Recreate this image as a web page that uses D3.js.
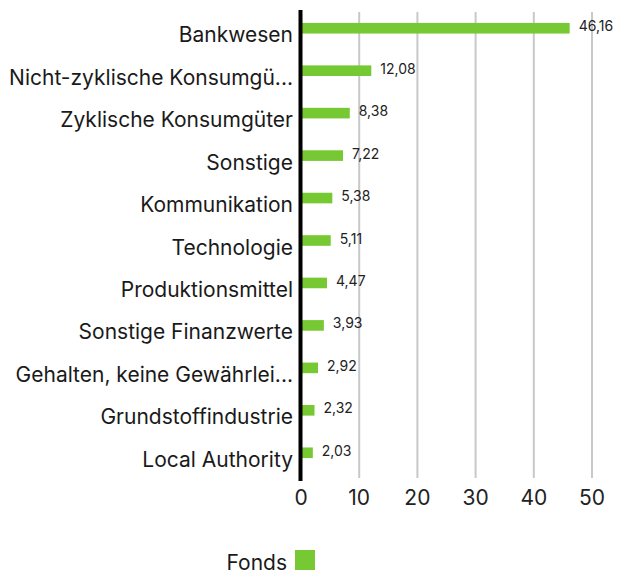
<!DOCTYPE html>
<head>
  <meta charset="utf-8" />
  <script src="https://d3js.org/d3.v7.min.js"></script>
  <style>
    body { margin: 0; background: #fff; }
  </style>
</head>
<body>
<div id="chart"></div>
<script>

// data
var categories = ["Bankwesen", "Nicht-zyklische Konsumgü...", "Zyklische Konsumgüter", "Sonstige",
  "Kommunikation", "Technologie", "Produktionsmittel", "Sonstige Finanzwerte",
  "Gehalten, keine Gewährlei...", "Grundstoffindustrie", "Local Authority"];
var fondsValues = [46.16, 12.08, 8.38, 7.22, 5.38, 5.11, 4.47, 3.93, 2.92, 2.32, 2.03];
var xTicks = [0, 10, 20, 30, 40, 50];
var seriesName = "Fonds";

var font = "Inter, 'Open Sans', sans-serif";
var green = "#76c933";

var svg = d3.select("#chart").append("svg")
  .attr("width", 618)
  .attr("height", 574);

var x = d3.scaleLinear().domain([0, 50]).range([301, 592]);
var y = d3.scaleBand().domain(categories).range([7, 474]).paddingInner(0.75).paddingOuter(0.375);

// grid lines
svg.append("g").selectAll("line")
  .data(xTicks.slice(1))
  .enter().append("line")
    .attr("x1", function(d) { return x(d); })
    .attr("x2", function(d) { return x(d); })
    .attr("y1", 12)
    .attr("y2", 478)
    .style("stroke", "#c8c8c8")
    .style("stroke-width", 2);

// tick labels
svg.append("g").selectAll("text")
  .data(xTicks)
  .enter().append("text")
    .attr("x", function(d) { return x(d); })
    .attr("y", 505)
    .attr("text-anchor", "middle")
    .style("font-family", font)
    .style("font-size", "21px")
    .style("fill", "#222")
    .text(function(d) { return d; });

// bars
svg.append("g").selectAll("rect")
  .data(fondsValues)
  .enter().append("rect")
    .attr("x", x(0))
    .attr("y", function(d, i) { return y(categories[i]); })
    .attr("width", function(d) { return x(d) - x(0); })
    .attr("height", y.bandwidth())
    .style("fill", green);

// value labels
svg.append("g").selectAll("text")
  .data(fondsValues)
  .enter().append("text")
    .attr("x", function(d) { return x(d) + 9; })
    .attr("y", function(d, i) { return y(categories[i]) + y.bandwidth() / 2 + 3; })
    .style("font-family", font)
    .style("font-size", "14px")
    .style("fill", "#222")
    .text(function(d) { return d.toFixed(2).replace(".", ","); });

// category labels
svg.append("g").selectAll("text")
  .data(categories)
  .enter().append("text")
    .attr("x", 293)
    .attr("y", function(d) { return y(d) + y.bandwidth() / 2 + 14; })
    .attr("text-anchor", "end")
    .style("font-family", font)
    .style("font-size", "21px")
    .style("fill", "#1a1a1a")
    .text(function(d) { return d; });

// y axis line
svg.append("line")
  .attr("x1", 300.5).attr("x2", 300.5)
  .attr("y1", 10).attr("y2", 481)
  .style("stroke", "#000")
  .style("stroke-width", 4);

// legend
svg.append("rect")
  .attr("x", 295).attr("y", 550)
  .attr("width", 20).attr("height", 20)
  .style("fill", green);
svg.append("text")
  .attr("x", 287).attr("y", 570)
  .attr("text-anchor", "end")
  .style("font-family", font)
  .style("font-size", "21px")
  .style("fill", "#1a1a1a")
  .text(seriesName);

</script>
</body>
</html>
